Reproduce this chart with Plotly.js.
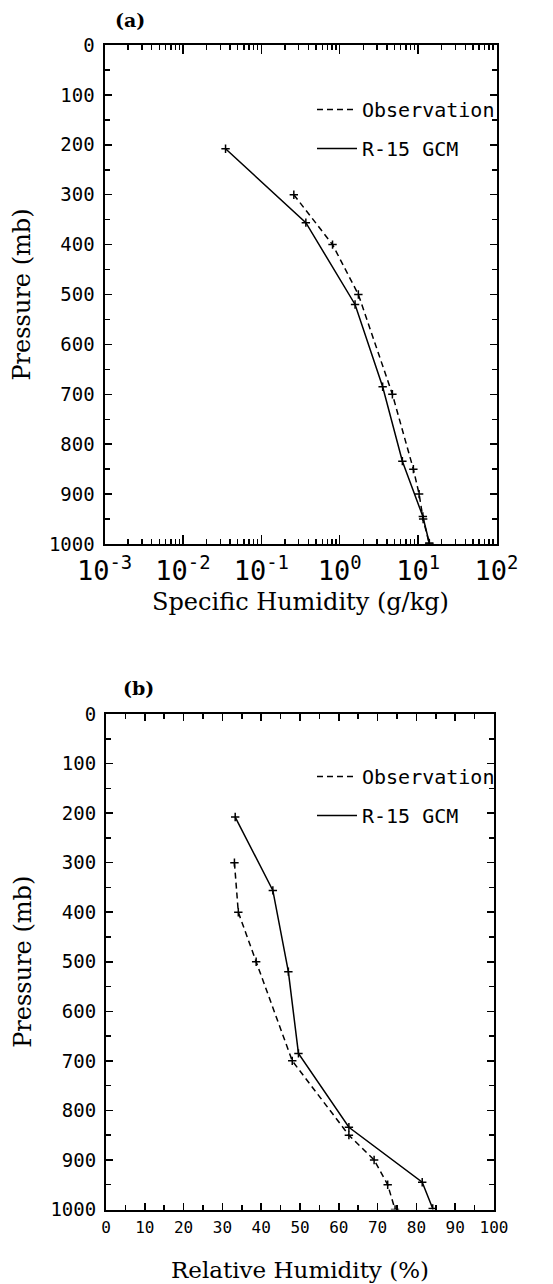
<!DOCTYPE html>
<html>
<head>
<meta charset="utf-8">
<script src="https://cdn.plot.ly/plotly-3.0.1.min.js"></script>
<style>html,body{margin:0;padding:0;background:#fff;}#chart{width:553px;height:1284px;}</style>
</head>
<body>
<div id="chart"></div>
<script>
// ---- data ----
const obsPressure = [300, 400, 500, 700, 850, 900, 950, 1000];
const gcmPressure = [208, 356, 520, 685, 834, 945, 998];
const obsSpecificHumidity = [0.26, 0.81, 1.73, 4.7, 8.7, 10.3, 11.6, 13.9];
const gcmSpecificHumidity = [0.035, 0.37, 1.57, 3.53, 6.3, 11.5, 13.9];
const obsRelativeHumidity = [33.1, 34.1, 38.7, 48.0, 62.6, 69.1, 72.6, 74.5];
const gcmRelativeHumidity = [33.3, 43.0, 47.0, 49.6, 62.6, 81.5, 84.2];
const seriesNames = ["Observation", "R-15 GCM"];
const logTickVals = [0.001, 0.01, 0.1, 1, 10, 100];
const logTickText = ["10<sup>-3</sup>", "10<sup>-2</sup>", "10<sup>-1</sup>", "10<sup>0</sup>", "10<sup>1</sup>", "10<sup>2</sup>"];
const panelLabels = ["(a)", "(b)"];
const axisTitles = {
  pressure: "Pressure (mb)",
  q: "Specific Humidity (g/kg)",
  rh: "Relative Humidity (%)"
};

// minor tick positions for the log axis (2..9 in each decade)
const logMinor = [];
for (let e = -3; e < 2; e++) for (let m = 2; m <= 9; m++) logMinor.push(m * Math.pow(10, e));

const W = 553, H = 1284;
const px = v => v / W;
const py = v => 1 - v / H;

const mono = "DejaVu Sans Mono";
const serif = "DejaVu Serif";

const obsLine = {color: "#000", width: 1.5, dash: "6px,4px"};
const gcmLine = {color: "#000", width: 1.5};
const mk = {symbol: "cross-thin", size: 6, color: "#000", line: {color: "#000", width: 1.5}};

function pair(x, y, xa, ya, name, line, leg, grp) {
  return [
    {x: x, y: y, xaxis: xa, yaxis: ya, mode: "lines", name: name, line: line,
     legend: leg, legendgroup: grp, showlegend: true},
    {x: x, y: y, xaxis: xa, yaxis: ya, mode: "markers", name: name, marker: mk,
     legend: leg, legendgroup: grp, showlegend: false}
  ];
}

const traces = [].concat(
  pair(obsSpecificHumidity, obsPressure, "x", "y", seriesNames[0], obsLine, "legend", "a1"),
  pair(gcmSpecificHumidity, gcmPressure, "x", "y", seriesNames[1], gcmLine, "legend", "a2"),
  pair(obsRelativeHumidity, obsPressure, "x2", "y2", seriesNames[0], obsLine, "legend2", "b1"),
  pair(gcmRelativeHumidity, gcmPressure, "x2", "y2", seriesNames[1], gcmLine, "legend2", "b2")
);

const common = {
  showline: true, linewidth: 2, linecolor: "#000", mirror: "ticks",
  ticks: "inside", tickcolor: "#000", tickwidth: 1.5,
  showgrid: false, zeroline: false
};

const yCommon = Object.assign({}, common, {
  range: [1000, 0], tickmode: "linear", tick0: 0, dtick: 100, ticklen: 7,
  minor: {tickmode: "linear", tick0: 0, dtick: 50, ticklen: 5, ticks: "inside", tickcolor: "#000", tickwidth: 1.5},
  tickfont: {family: mono, size: 19, color: "#000"},
  ticklabelstandoff: 4,
  title: {text: axisTitles.pressure, font: {family: serif, size: 24, color: "#000"}, standoff: 12}
});

const legendCommon = {
  xanchor: "left", yanchor: "top", bgcolor: "rgba(0,0,0,0)", borderwidth: 0,
  font: {family: mono, size: 20, color: "#000"}, tracegroupgap: 10, itemwidth: 40
};

const layout = {
  width: W, height: H,
  margin: {l: 0, r: 0, t: 0, b: 0},
  paper_bgcolor: "#fff", plot_bgcolor: "#fff",
  showlegend: true,
  xaxis: Object.assign({}, common, {
    type: "log", range: [-3, 2], domain: [px(104.5), px(496.5)], anchor: "y",
    tickmode: "array", tickvals: logTickVals, ticktext: logTickText, ticklen: 9,
    minor: {tickmode: "array", tickvals: logMinor, ticklen: 5, ticks: "inside", tickcolor: "#000", tickwidth: 1.5},
    tickfont: {family: mono, size: 27, color: "#000"},
    ticklabelstandoff: 2,
    title: {text: axisTitles.q, font: {family: serif, size: 24, color: "#000"}, standoff: 8}
  }),
  yaxis: Object.assign({}, yCommon, {domain: [py(544), py(45)], anchor: "x"}),
  xaxis2: Object.assign({}, common, {
    range: [0, 100], domain: [px(106), px(494)], anchor: "y2",
    tickmode: "linear", tick0: 0, dtick: 10, ticklen: 7,
    minor: {tickmode: "linear", tick0: 0, dtick: 5, ticklen: 5, ticks: "inside", tickcolor: "#000", tickwidth: 1.5},
    tickfont: {family: mono, size: 16, color: "#000"},
    ticklabelstandoff: 2,
    title: {text: axisTitles.rh, font: {family: serif, size: 23, color: "#000"}, standoff: 26}
  }),
  yaxis2: Object.assign({}, yCommon, {domain: [py(1209.5), py(714)], anchor: "x2"}),
  legend: Object.assign({}, legendCommon, {x: px(312), y: py(90)}),
  legend2: Object.assign({}, legendCommon, {x: px(312), y: py(757)}),
  annotations: [
    {text: panelLabels[0], xref: "paper", yref: "paper", x: px(113), y: py(20), xanchor: "left", yanchor: "middle",
     showarrow: false, font: {family: serif, size: 19, color: "#000", weight: "bold"}},
    {text: panelLabels[1], xref: "paper", yref: "paper", x: px(121), y: py(688), xanchor: "left", yanchor: "middle",
     showarrow: false, font: {family: serif, size: 19, color: "#000", weight: "bold"}}
  ]
};

Plotly.newPlot("chart", traces, layout, {staticPlot: true, displayModeBar: false});
</script>
</body>
</html>
